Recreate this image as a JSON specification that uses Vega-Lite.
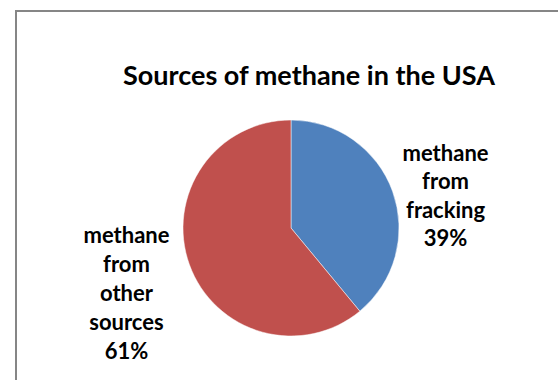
{
  "$schema": "https://vega.github.io/schema/vega-lite/v6.json",
  "autosize": "none",
  "padding": {"left": 16, "top": 11, "right": 0, "bottom": 0},
  "width": 550,
  "height": 434,
  "background": "white",
  "view": {"stroke": "#868686", "strokeWidth": 2, "fill": "white"},
  "config": {
    "font": "Lato"
  },
  "title": {
    "text": "Sources of methane in the USA",
    "font": "Lato",
    "fontSize": 27,
    "fontWeight": "bold",
    "color": "#000000",
    "anchor": "middle",
    "baseline": "alphabetic",
    "offset": -101,
    "dx": 18
  },
  "data": {
    "values": [
      {"source": "methane from fracking", "percent": 39, "label": "methane\nfrom\nfracking\n39%", "order": 1},
      {"source": "methane from other sources", "percent": 61, "label": "methane\nfrom\nother\nsources\n61%", "order": 2}
    ]
  },
  "transform": [
    {"stack": "percent", "groupby": [], "sort": [{"field": "order"}], "as": ["start", "end"]},
    {"calculate": "(datum.start + datum.end) / 2", "as": "mid"}
  ],
  "layer": [
    {
      "mark": {"type": "arc", "radius": 108, "stroke": "#ffffff", "strokeWidth": 0.5},
      "encoding": {
        "theta": {"field": "start", "type": "quantitative", "scale": {"domain": [0, 100]}},
        "theta2": {"field": "end"},
        "color": {
          "field": "source",
          "type": "nominal",
          "scale": {"domain": ["methane from fracking", "methane from other sources"], "range": ["#4F81BD", "#C0504D"]},
          "legend": null
        }
      }
    },
    {
      "transform": [{"filter": "datum.order == 1"}],
      "mark": {"type": "text", "radius": 160, "dx": 4, "dy": -20, "lineBreak": "\n", "lineHeight": 28.5, "font": "Lato", "fontSize": 22, "fontWeight": "bold", "color": "#000000", "align": "center", "baseline": "middle"},
      "encoding": {
        "theta": {"field": "mid", "type": "quantitative", "scale": {"domain": [0, 100]}},
        "text": {"field": "label"}
      }
    },
    {
      "transform": [{"filter": "datum.order == 2"}],
      "mark": {"type": "text", "radius": 160, "dx": -14, "dy": -46, "lineBreak": "\n", "lineHeight": 29, "font": "Lato", "fontSize": 22, "fontWeight": "bold", "color": "#000000", "align": "center", "baseline": "middle"},
      "encoding": {
        "theta": {"field": "mid", "type": "quantitative", "scale": {"domain": [0, 100]}},
        "text": {"field": "label"}
      }
    }
  ]
}
